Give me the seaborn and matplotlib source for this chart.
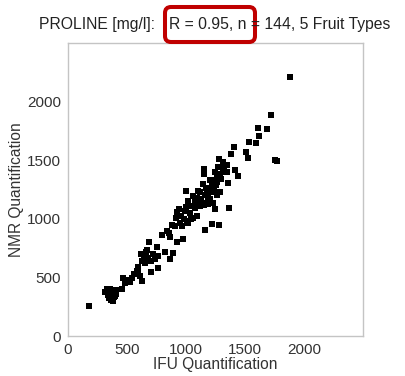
import matplotlib
matplotlib.use("Agg")
import matplotlib.pyplot as plt
from matplotlib.patches import FancyBboxPatch
import pandas as pd
import seaborn as sns

# Proline concentrations (mg/l): IFU reference method vs. NMR quantification
ifu = [
    181, 330, 345, 360, 340, 355, 370, 385, 375, 395, 365, 350, 390,
    455, 469, 511, 525, 483, 545,
    582, 596, 610, 624, 624, 616, 640, 669, 686, 680, 737, 765, 701, 760,
    794, 822, 865, 893, 856, 865, 907, 921, 972,
    921, 915, 949, 983, 1020, 992, 1034, 1062, 1090, 1006,
    1020, 1048, 1076, 1118, 1147, 1189, 1232,
    1000, 1062, 1096, 1175, 1203, 1218, 1118, 1288,
    1245, 1364, 1223, 1282, 1161,
    1141, 1218, 1260, 1358, 1155, 1155,
    1237, 1260, 1282, 1243, 1288, 1316, 1443, 1415,
    1282, 1316, 1345, 1379, 1407, 1506, 1528, 1537, 1593, 1618, 1613,
    1689, 1720, 1881, 1754, 1774,
    315, 330, 348, 362, 378, 392, 410, 380, 360, 405,
    500, 560, 590, 650, 700, 720, 660, 750,
    840, 880, 960, 940, 1000, 1040, 970,
    1100, 1130, 1160, 1190, 1210, 1240, 1170, 1260, 1100, 1250, 1300,
    1200, 1320, 1270, 1350, 1150, 1080,
]
nmr = [
    252, 390, 375, 400, 350, 335, 325, 315, 355, 345, 305, 320, 370,
    400, 495, 480, 458, 452, 495,
    552, 589, 510, 466, 638, 698, 695, 738, 799, 667, 661, 681, 547, 579,
    861, 715, 661, 710, 881, 847, 938, 801, 830,
    1058, 1010, 967, 996, 967, 1067, 1053, 1010, 1024, 981,
    1153, 1110, 1096, 1110, 1139, 1124, 1133,
    1236, 1196, 1181, 1210, 1167, 1139, 1225, 1230,
    1080, 1093, 959, 947, 904,
    1296, 1282, 1310, 1305, 1382, 1425,
    1333, 1353, 1362, 1402, 1382, 1396, 1368, 1419,
    1511, 1482, 1459, 1552, 1611, 1574, 1519, 1654, 1648, 1705, 1774,
    1763, 1882, 2206, 1505, 1494,
    375, 405, 385, 360, 340, 330, 355, 295, 325, 390,
    470, 530, 560, 620, 640, 700, 720, 760,
    900, 950, 1020, 1080, 1100, 1000, 940,
    1150, 1170, 1200, 1180, 1230, 1250, 1260, 1200, 1240, 1290, 1340,
    1330, 1430, 1440, 1400, 1120, 1140,
]
ticks = [0, 500, 1000, 1500, 2000]

title_left = "PROLINE [mg/l]:"
title_stats = "R = 0.95, n = 144, 5 Fruit Types"

df = pd.DataFrame({"IFU Quantification": ifu, "NMR Quantification": nmr})

sns.set_theme(style="white")
plt.rcParams["font.family"] = ["Liberation Sans", "DejaVu Sans"]

W, H = 405, 376
fig = plt.figure(figsize=(W / 100, H / 100), dpi=100)
ax = fig.add_axes([68 / W, 40 / H, 295 / W, 293 / H])

sns.scatterplot(data=df, x="IFU Quantification", y="NMR Quantification",
                marker="s", color="black", s=17, linewidth=0, ax=ax)

ax.set_xlim(0, 2500)
ax.set_ylim(0, 2500)
ax.set_xticks(ticks)
ax.set_yticks(ticks)
ax.tick_params(axis="both", labelsize=11, labelcolor="#333333",
               length=3, width=0.8, color="#b0b0b0", direction="out", pad=2)
ax.set_xlabel("IFU Quantification", fontsize=11.2, color="#333333", labelpad=0)
ax.set_ylabel("NMR Quantification", fontsize=11.2, color="#333333", labelpad=2)
for sp in ax.spines.values():
    sp.set_color("#c4c4c4")
    sp.set_linewidth(1.0)

# title in two parts: label on the left, statistics on the right
fig.text(155 / W, 1 - 25 / H, title_left,
         ha="right", va="center", fontsize=11.3, color="#222222")
fig.text(169 / W, 1 - 25 / H, title_stats,
         ha="left", va="center", fontsize=11.3, color="#222222")

# rounded red highlight around the correlation statistic
box = FancyBboxPatch((165, H - 42), 90, 35,
                     boxstyle="round,pad=0,rounding_size=6",
                     transform=None, fill=False, edgecolor="#c00000",
                     linewidth=2.9)
fig.patches.append(box)

fig.savefig("out.png", dpi=100, facecolor="white")
